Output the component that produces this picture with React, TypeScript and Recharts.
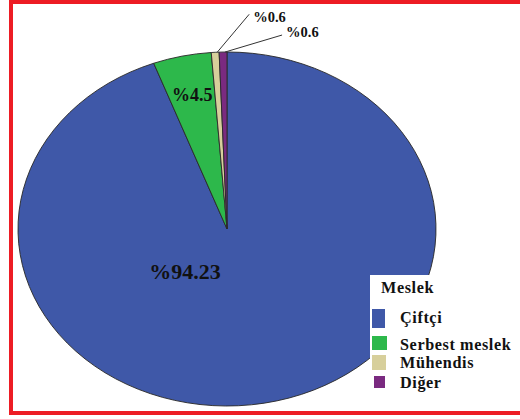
import React from "react";
import { PieChart, Pie, Cell, Legend } from "recharts";

const categories = ["Çiftçi", "Serbest meslek", "Mühendis", "Diğer"];
const values = [94.23, 4.5, 0.6, 0.6];
const colors = ["#3F58A8", "#2DB84B", "#D7CF9B", "#7A2A80"];
const legendTitle = "Meslek";

const data = categories.map((name, i) => ({ name, value: values[i] }));

const W = 520;
const H = 419;
const CX = 227;
const CY = 229;
const RX = 209;
const RY = 177;
const K = RY / RX;
const FONT = "'Liberation Serif', 'Times New Roman', serif";
const RED = "#ED1C24";
const LEG_FS = 16.2;
const LEG_LS = "0.6px";

// label placement (annotation layout, not data)
const labelLayout: any[] = [
  { mode: "radial", angle: -129.6, f: 0.315, size: 22 },
  { mode: "radial", f: 0.775, size: 18 },
  { mode: "leader", lx: 34, ly: -38, tdy: 3, size: 14.5 },
  { mode: "leader", lx: 59, ly: -17, tdy: -3, size: 14.5 },
];

// legend layout (relative to legend box)
const swatchBoxes = [
  { x: 2, y: 34, w: 13, h: 19 },
  { x: 2, y: 61, w: 15, h: 14 },
  { x: 2, y: 80, w: 14, h: 15 },
  { x: 4, y: 101, w: 11, h: 12 },
];
const textTops = [35.5, 62.5, 80.5, 100.5];

const renderLabel = (p: any) => {
  const { cx, cy, midAngle, outerRadius, index, value } = p;
  const cfg = labelLayout[index];
  const txt = `%${value}`;
  if (cfg.mode === "radial") {
    const a = ((cfg.angle ?? midAngle) * Math.PI) / 180;
    const x = cx + outerRadius * cfg.f * Math.cos(a);
    const y = cy - outerRadius * cfg.f * K * Math.sin(a);
    return (
      <text
        key={`l${index}`}
        x={x}
        y={y}
        textAnchor="middle"
        dominantBaseline="central"
        fontFamily={FONT}
        fontWeight="bold"
        fontSize={cfg.size}
        fill="#111"
      >
        {txt}
      </text>
    );
  }
  const a = (midAngle * Math.PI) / 180;
  const ex = cx + outerRadius * Math.cos(a);
  const ey = cy - outerRadius * K * Math.sin(a);
  const x2 = ex + cfg.lx;
  const y2 = ey + cfg.ly;
  return (
    <g key={`l${index}`}>
      <line x1={ex + 2} y1={ey} x2={x2} y2={y2} stroke="#333" strokeWidth={1} />
      <text
        x={x2 + 4}
        y={y2 + cfg.tdy}
        textAnchor="start"
        dominantBaseline="central"
        fontFamily={FONT}
        fontWeight="bold"
        fontSize={cfg.size}
        fill="#111"
      >
        {txt}
      </text>
    </g>
  );
};

const LegendBox = () => (
  <div
    style={{
      width: 150,
      height: 136,
      background: "#fff",
      fontFamily: FONT,
      fontWeight: "bold",
      position: "relative",
      color: "#111",
    }}
  >
    <div
      style={{
        position: "absolute",
        left: 11,
        top: 5.5,
        fontSize: LEG_FS,
        letterSpacing: LEG_LS,
        lineHeight: "14px",
      }}
    >
      {legendTitle}
    </div>
    {categories.map((c, i) => {
      const s = swatchBoxes[i];
      return (
        <React.Fragment key={c}>
          <div
            style={{
              position: "absolute",
              left: s.x,
              top: s.y,
              width: s.w,
              height: s.h,
              background: colors[i],
            }}
          />
          <div
            style={{
              position: "absolute",
              left: 30,
              top: textTops[i],
              fontSize: LEG_FS,
              letterSpacing: LEG_LS,
              lineHeight: "14px",
              whiteSpace: "nowrap",
            }}
          >
            {c}
          </div>
        </React.Fragment>
      );
    })}
  </div>
);

export default function App() {
  return (
    <div
      style={{
        position: "absolute",
        left: 0,
        top: 0,
        width: W,
        height: H,
        overflow: "hidden",
        background: "#fff",
      }}
    >
      <div
        style={{
          position: "absolute",
          left: 0,
          top: 0,
          width: W,
          height: 460,
          transform: `scaleY(${K})`,
          transformOrigin: `0px ${CY}px`,
        }}
      >
        <PieChart width={W} height={460} margin={{ top: 0, right: 0, bottom: 0, left: 0 }}>
          <Pie
            data={data}
            dataKey="value"
            nameKey="name"
            cx={CX}
            cy={CY}
            outerRadius={RX}
            startAngle={90}
            endAngle={-270}
            stroke="#2a2a2a"
            strokeWidth={1}
            isAnimationActive={false}
            label={false}
            labelLine={false}
          >
            {data.map((d, i) => (
              <Cell key={d.name} fill={colors[i]} />
            ))}
          </Pie>
        </PieChart>
      </div>
      <div style={{ position: "absolute", left: 0, top: 0, width: W, height: H }}>
        <PieChart width={W} height={H} margin={{ top: 0, right: 0, bottom: 0, left: 0 }}>
          <Pie
            data={data}
            dataKey="value"
            nameKey="name"
            cx={CX}
            cy={CY}
            outerRadius={RX}
            startAngle={90}
            endAngle={-270}
            fill="none"
            stroke="none"
            isAnimationActive={false}
            label={renderLabel}
            labelLine={false}
          >
            {data.map((d) => (
              <Cell key={d.name} fill="none" stroke="none" />
            ))}
          </Pie>
          <Legend
            content={() => <LegendBox />}
            wrapperStyle={{ position: "absolute", left: 370, top: 275, width: 150, height: 136 }}
          />
        </PieChart>
      </div>
      <div style={{ position: "absolute", left: 9, top: 0, width: 4, height: 415, background: RED }} />
      <div style={{ position: "absolute", left: 9, top: 0, width: 511, height: 4, background: RED }} />
      <div style={{ position: "absolute", left: 9, top: 411, width: 511, height: 4, background: RED }} />
    </div>
  );
}
